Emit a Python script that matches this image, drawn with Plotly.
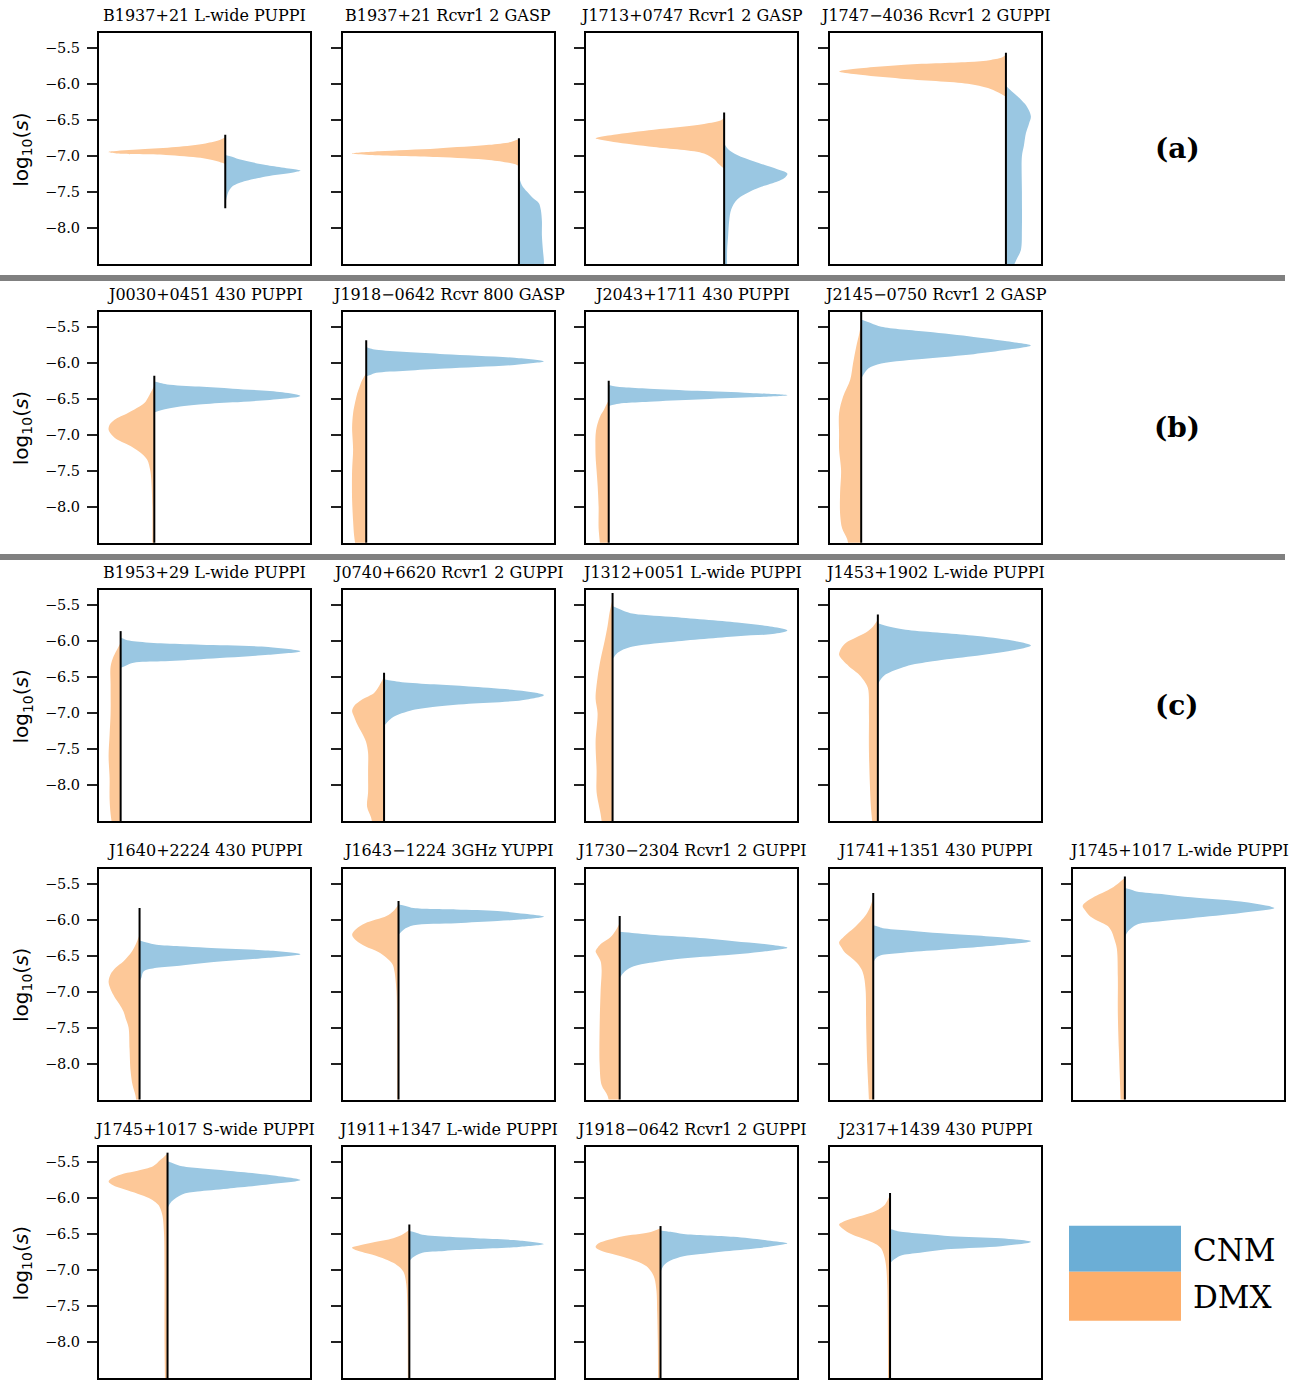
import plotly.graph_objects as go

W, H = 1301, 1380

# ---------------- data ----------------
TITLES = [
    "B1937+21 L-wide PUPPI", "B1937+21 Rcvr1 2 GASP", "J1713+0747 Rcvr1 2 GASP", "J1747\u22124036 Rcvr1 2 GUPPI",
    "J0030+0451 430 PUPPI", "J1918\u22120642 Rcvr 800 GASP", "J2043+1711 430 PUPPI", "J2145\u22120750 Rcvr1 2 GASP",
    "B1953+29 L-wide PUPPI", "J0740+6620 Rcvr1 2 GUPPI", "J1312+0051 L-wide PUPPI", "J1453+1902 L-wide PUPPI",
    "J1640+2224 430 PUPPI", "J1643\u22121224 3GHz YUPPI", "J1730\u22122304 Rcvr1 2 GUPPI", "J1741+1351 430 PUPPI",
    "J1745+1017 L-wide PUPPI",
    "J1745+1017 S-wide PUPPI", "J1911+1347 L-wide PUPPI", "J1918\u22120642 Rcvr1 2 GUPPI", "J2317+1439 430 PUPPI",
]
PANEL_ROW = [0, 0, 0, 0, 1, 1, 1, 1, 2, 2, 2, 2, 3, 3, 3, 3, 3, 4, 4, 4, 4]
PANEL_COL = [0, 1, 2, 3, 0, 1, 2, 3, 0, 1, 2, 3, 0, 1, 2, 3, 4, 0, 1, 2, 3]

# extent of the black median line (log10 s)
LINE_TOP = [-6.70, -6.75, -6.39, -5.56,
            -6.18, -5.685, -6.25, -5.28,
            -5.86, -6.44, -5.33, -5.63,
            -5.84, -5.74, -5.95, -5.63, -5.40,
            -5.37, -6.37, -6.39, -5.93]
LINE_BOTTOM = [-7.72, -8.6, -8.6, -8.6,
               -8.6, -8.6, -8.6, -8.6,
               -8.6, -8.6, -8.6, -8.6,
               -8.6, -8.6, -8.6, -8.6, -8.6,
               -8.6, -8.6, -8.6, -8.6]

# DMX (left half) density profiles: (log10 s, relative width)
DMX = [
    [(-6.73, 0), (-6.77, 5), (-6.82, 20), (-6.87, 50), (-6.90, 85), (-6.93, 115), (-6.94, 118), (-6.96, 110),
     (-6.98, 60), (-7.02, 25), (-7.06, 10), (-7.09, 3), (-7.11, 0)],
    [(-6.76, 0), (-6.80, 8), (-6.84, 30), (-6.89, 82), (-6.93, 140), (-6.96, 167), (-6.98, 150), (-7.01, 82),
     (-7.05, 30), (-7.09, 10), (-7.12, 2), (-7.14, 0)],
    [(-6.46, 0), (-6.50, 3), (-6.55, 20), (-6.63, 70), (-6.70, 110), (-6.75, 128), (-6.80, 110), (-6.87, 70),
     (-6.96, 20), (-7.05, 9), (-7.10, 6), (-7.17, 0)],
    [(-5.58, 0), (-5.62, 3), (-5.66, 15), (-5.69, 38), (-5.73, 105), (-5.79, 155), (-5.82, 167), (-5.86, 150),
     (-5.92, 105), (-5.99, 38), (-6.05, 18), (-6.11, 8), (-6.17, 0)],
    [(-6.32, 0), (-6.45, 5), (-6.56, 10), (-6.65, 20), (-6.70, 27), (-6.79, 40), (-6.86, 45), (-6.93, 46),
     (-7.00, 43), (-7.07, 37), (-7.13, 28), (-7.19, 20), (-7.27, 12), (-7.35, 7), (-7.50, 4), (-7.63, 3),
     (-8.00, 2), (-8.60, 2)],
    [(-6.15, 0), (-6.24, 4), (-6.35, 7), (-6.43, 9), (-6.55, 11), (-6.70, 13), (-6.90, 14), (-7.20, 13),
     (-7.50, 14), (-7.90, 14), (-8.20, 13), (-8.40, 12), (-8.60, 10)],
    [(-6.52, 0), (-6.60, 3), (-6.66, 5), (-6.73, 8), (-6.80, 10), (-6.90, 12), (-7.00, 13), (-7.30, 13),
     (-7.50, 12), (-7.70, 11), (-8.00, 10), (-8.30, 10), (-8.60, 8)],
    [(-5.45, 0), (-5.60, 2), (-5.78, 5), (-6.00, 8), (-6.24, 11), (-6.47, 18), (-6.70, 22), (-7.00, 22),
     (-7.20, 22), (-7.50, 20), (-7.80, 21), (-8.10, 21), (-8.30, 19), (-8.45, 14), (-8.60, 12)],
    [(-6.02, 0), (-6.10, 3), (-6.21, 7), (-6.35, 10), (-6.60, 10), (-7.00, 10), (-7.30, 11), (-7.60, 12),
     (-7.90, 11), (-8.20, 11), (-8.40, 10), (-8.60, 8)],
    [(-6.49, 0), (-6.60, 4), (-6.72, 10), (-6.81, 22), (-6.90, 30), (-6.97, 32), (-7.05, 30), (-7.15, 27),
     (-7.28, 22), (-7.40, 18), (-7.55, 16), (-7.80, 16), (-8.10, 16), (-8.30, 17), (-8.45, 13), (-8.60, 11)],
    [(-5.42, 0), (-5.60, 3), (-5.79, 5), (-6.00, 8), (-6.25, 12), (-6.50, 15), (-6.80, 17), (-7.00, 15),
     (-7.40, 17), (-7.80, 16), (-8.10, 16), (-8.40, 12), (-8.60, 10)],
    [(-5.70, 0), (-5.80, 5), (-5.88, 12), (-5.95, 22), (-6.02, 32), (-6.10, 37), (-6.19, 39), (-6.27, 35),
     (-6.35, 29), (-6.45, 20), (-6.53, 15), (-6.65, 10), (-7.00, 9), (-7.50, 9), (-8.00, 8), (-8.30, 7),
     (-8.60, 5)],
    [(-6.21, 0), (-6.35, 4), (-6.44, 7.5), (-6.58, 16), (-6.67, 24), (-6.76, 29), (-6.86, 31), (-6.93, 30),
     (-7.00, 28), (-7.10, 24), (-7.18, 20), (-7.28, 16), (-7.37, 14), (-7.50, 11), (-7.80, 10), (-8.10, 9),
     (-8.30, 7), (-8.45, 4), (-8.60, 3)],
    [(-5.79, 0), (-5.88, 5), (-5.95, 12), (-6.05, 33), (-6.13, 42), (-6.21, 46), (-6.29, 42), (-6.37, 33),
     (-6.45, 20), (-6.53, 12), (-6.62, 6), (-6.72, 4), (-7.00, 2), (-7.50, 1.5), (-8.60, 1.2)],
    [(-6.05, 0), (-6.15, 4), (-6.25, 9.5), (-6.33, 18), (-6.39, 22), (-6.44, 24), (-6.50, 22), (-6.58, 19),
     (-6.70, 18), (-7.00, 19), (-7.50, 20), (-8.00, 20), (-8.30, 18), (-8.45, 12), (-8.60, 10)],
    [(-5.70, 0), (-5.82, 3), (-5.93, 7), (-6.03, 13), (-6.12, 19.5), (-6.22, 28), (-6.32, 34), (-6.40, 31),
     (-6.46, 28), (-6.54, 21), (-6.62, 15), (-6.71, 11), (-6.81, 9), (-7.00, 7.5), (-7.50, 7), (-8.00, 6),
     (-8.30, 5), (-8.60, 4)],
    [(-5.42, 0), (-5.49, 6), (-5.56, 13), (-5.62, 21), (-5.68, 30), (-5.75, 38), (-5.81, 42), (-5.88, 39),
     (-5.96, 34), (-6.03, 25), (-6.09, 17), (-6.17, 13), (-6.25, 11), (-6.40, 8), (-6.80, 7), (-7.30, 7),
     (-7.80, 6), (-8.20, 5), (-8.60, 4)],
    [(-5.38, 0), (-5.47, 7), (-5.56, 14.5), (-5.62, 30), (-5.66, 43.5), (-5.72, 55), (-5.77, 59), (-5.82, 55),
     (-5.88, 43.5), (-5.94, 30), (-6.00, 18.7), (-6.06, 12), (-6.12, 8), (-6.25, 5), (-6.50, 3.5), (-7.00, 3),
     (-8.00, 3), (-8.60, 2.5)],
    [(-6.44, 0), (-6.50, 6), (-6.56, 16), (-6.62, 36.5), (-6.66, 50), (-6.69, 57), (-6.73, 52), (-6.79, 36.5),
     (-6.85, 24), (-6.90, 16), (-6.97, 9), (-7.04, 5.4), (-7.20, 3), (-7.50, 2), (-8.60, 1.5)],
    [(-6.42, 0), (-6.48, 12), (-6.53, 37.6), (-6.58, 52), (-6.63, 62), (-6.68, 65), (-6.73, 60), (-6.78, 48),
     (-6.82, 37), (-6.88, 24), (-6.95, 14), (-7.03, 9), (-7.12, 6), (-7.30, 4), (-7.60, 3.3), (-8.00, 2.7),
     (-8.60, 2.5)],
    [(-5.96, 0), (-6.03, 2.5), (-6.10, 5.7), (-6.17, 13), (-6.22, 22), (-6.29, 39), (-6.33, 47), (-6.37, 51),
     (-6.43, 47), (-6.50, 39), (-6.55, 30), (-6.59, 22), (-6.65, 13), (-6.70, 9), (-6.80, 6), (-6.94, 4),
     (-7.20, 2.8), (-7.60, 2.3), (-8.60, 2)],
]

# CNM (right half) density profiles: (log10 s, relative width)
CNM = [
    [(-6.98, 0), (-7.00, 5), (-7.04, 14), (-7.12, 41), (-7.19, 74), (-7.20, 76), (-7.22, 70), (-7.28, 41),
     (-7.37, 14), (-7.42, 7), (-7.50, 3), (-7.60, 1), (-7.65, 0)],
    [(-7.28, 0), (-7.40, 3), (-7.49, 8), (-7.58, 14), (-7.65, 20), (-7.75, 22), (-7.90, 23), (-8.10, 23),
     (-8.30, 24), (-8.45, 25), (-8.60, 25)],
    [(-6.82, 0), (-6.90, 4), (-6.98, 13), (-7.07, 30), (-7.18, 53), (-7.24, 63), (-7.30, 60), (-7.35, 53),
     (-7.46, 30), (-7.60, 13), (-7.74, 7), (-7.90, 5), (-8.10, 4), (-8.30, 3), (-8.60, 3)],
    [(-6.02, 0), (-6.10, 6), (-6.17, 12), (-6.27, 19), (-6.36, 23), (-6.45, 25), (-6.55, 23), (-6.68, 20),
     (-6.85, 18), (-7.00, 16), (-7.50, 16), (-8.00, 16), (-8.30, 15), (-8.45, 10), (-8.60, 5)],
    [(-6.26, 0), (-6.28, 6), (-6.30, 13), (-6.33, 45), (-6.36, 79), (-6.41, 129), (-6.46, 147), (-6.50, 129),
     (-6.55, 79), (-6.58, 45), (-6.60, 30), (-6.64, 13), (-6.69, 0)],
    [(-5.78, 0), (-5.80, 4), (-5.82, 10), (-5.85, 40), (-5.88, 78), (-5.93, 147), (-5.98, 176), (-6.03, 147),
     (-6.08, 78), (-6.11, 40), (-6.14, 10), (-6.17, 4), (-6.19, 0)],
    [(-6.31, 0), (-6.33, 7), (-6.34, 15), (-6.36, 40), (-6.39, 88), (-6.42, 140), (-6.45, 177), (-6.48, 140),
     (-6.51, 88), (-6.54, 40), (-6.56, 15), (-6.58, 6), (-6.60, 0)],
    [(-5.40, 0), (-5.45, 10), (-5.50, 20), (-5.57, 66), (-5.64, 112), (-5.70, 145), (-5.76, 169), (-5.82, 145),
     (-5.88, 112), (-5.94, 66), (-6.01, 20), (-6.08, 7), (-6.15, 3), (-6.22, 0)],
    [(-5.95, 0), (-5.98, 5), (-6.00, 13), (-6.03, 40), (-6.05, 80), (-6.08, 147), (-6.14, 179), (-6.19, 147),
     (-6.25, 80), (-6.28, 40), (-6.30, 13), (-6.34, 5), (-6.37, 0)],
    [(-6.53, 0), (-6.55, 8), (-6.57, 18), (-6.60, 50), (-6.63, 85), (-6.69, 138), (-6.75, 160), (-6.82, 138),
     (-6.87, 85), (-6.92, 45), (-6.95, 31), (-7.04, 11), (-7.10, 5), (-7.18, 0)],
    [(-5.51, 0), (-5.56, 8), (-5.61, 18), (-5.66, 58), (-5.74, 125), (-5.80, 160), (-5.85, 175), (-5.90, 160),
     (-5.93, 125), (-6.01, 58), (-6.08, 18), (-6.16, 5), (-6.25, 0)],
    [(-5.75, 0), (-5.80, 12), (-5.84, 28), (-5.92, 95), (-5.99, 135), (-6.06, 154), (-6.13, 135), (-6.21, 95),
     (-6.28, 55), (-6.35, 28), (-6.46, 8), (-6.53, 3), (-6.60, 0)],
    [(-6.29, 0), (-6.32, 7), (-6.35, 17), (-6.37, 40), (-6.39, 67), (-6.43, 129), (-6.48, 161), (-6.53, 129),
     (-6.60, 67), (-6.64, 40), (-6.67, 17), (-6.72, 4), (-6.80, 2), (-6.86, 0)],
    [(-5.79, 0), (-5.81, 7), (-5.84, 15), (-5.86, 57), (-5.88, 98), (-5.92, 125), (-5.96, 144), (-6.00, 120),
     (-6.02, 98), (-6.05, 57), (-6.08, 15), (-6.14, 5), (-6.21, 0)],
    [(-6.17, 0), (-6.19, 15), (-6.21, 31), (-6.25, 75), (-6.30, 114), (-6.35, 150), (-6.39, 167), (-6.44, 145),
     (-6.50, 100), (-6.55, 55), (-6.60, 30), (-6.65, 14), (-6.72, 5), (-6.81, 0)],
    [(-6.08, 0), (-6.10, 5), (-6.12, 9.5), (-6.15, 35), (-6.19, 68), (-6.25, 130), (-6.30, 157), (-6.35, 130),
     (-6.42, 68), (-6.46, 30), (-6.49, 9.5), (-6.53, 3), (-6.60, 0)],
    [(-5.56, 0), (-5.58, 5), (-5.61, 11.6), (-5.65, 40), (-5.69, 66), (-5.75, 115), (-5.84, 148.5), (-5.91, 115),
     (-5.98, 66), (-6.03, 30), (-6.07, 11.6), (-6.16, 3.3), (-6.25, 0)],
    [(-5.49, 0), (-5.52, 6), (-5.56, 14.5), (-5.59, 35), (-5.62, 60), (-5.68, 102), (-5.75, 133), (-5.81, 102),
     (-5.87, 60), (-5.91, 30), (-5.95, 14.5), (-6.05, 4), (-6.14, 0)],
    [(-6.46, 0), (-6.48, 6), (-6.51, 13), (-6.54, 40), (-6.56, 67), (-6.59, 109), (-6.64, 134), (-6.68, 109),
     (-6.71, 67), (-6.735, 35), (-6.76, 13), (-6.83, 3), (-6.88, 0)],
    [(-6.45, 0), (-6.47, 10), (-6.50, 23), (-6.54, 73), (-6.59, 107), (-6.63, 127), (-6.68, 107), (-6.73, 73),
     (-6.78, 40), (-6.81, 23), (-6.87, 10), (-6.94, 3), (-7.03, 0)],
    [(-6.43, 0), (-6.45, 5), (-6.47, 11), (-6.50, 35), (-6.53, 61), (-6.56, 111), (-6.61, 141), (-6.67, 111),
     (-6.71, 61), (-6.76, 30), (-6.80, 11), (-6.87, 2.7), (-6.91, 0)],
]

ROW_LABELS = ["(a)", "(b)", "(c)"]
TICK_VALS = [-5.5, -6.0, -6.5, -7.0, -7.5, -8.0]
TICK_TEXT = ["\u22125.5", "\u22126.0", "\u22126.5", "\u22127.0", "\u22127.5", "\u22128.0"]
LEGEND_NAMES = ["CNM", "DMX"]

# ---------------- styling ----------------
CNM_FILL = "#9ac7e2"
DMX_FILL = "#fdc898"
CNM_LEG = "#6baed6"
DMX_LEG = "#fdae6b"
SERIF = "DejaVu Serif"
SANS = "DejaVu Sans"
Y_RANGE = [-8.5, -5.29]

PANEL_W, PANEL_H = 211, 231
COL_X0, COL_STEP = 99, 243.5
ROW_Y0, ROW_STEP = 33.3, 278.4


def px_x(v):
    return v / W


def px_y(v):
    return 1 - v / H


fig = go.Figure()
layout = dict(
    width=W, height=H, margin=dict(l=0, r=0, t=0, b=0),
    paper_bgcolor="white", plot_bgcolor="white", showlegend=False,
)
annotations = []
shapes = []

for i, title in enumerate(TITLES):
    r, c = PANEL_ROW[i], PANEL_COL[i]
    left = COL_X0 + COL_STEP * c
    top = ROW_Y0 + ROW_STEP * r
    xa = "x" if i == 0 else f"x{i+1}"
    ya = "y" if i == 0 else f"y{i+1}"
    xkey = "xaxis" if i == 0 else f"xaxis{i+1}"
    ykey = "yaxis" if i == 0 else f"yaxis{i+1}"

    dy = [p[0] for p in DMX[i]]
    dw = [p[1] for p in DMX[i]]
    cy = [p[0] for p in CNM[i]]
    cw = [p[1] for p in CNM[i]]
    L, R = max(dw), max(cw)
    pad = 0.05 * (L + R)

    fig.add_trace(go.Scatter(x=[-w for w in dw], y=dy, mode="lines", fill="tozerox",
                             fillcolor=DMX_FILL, line=dict(width=0, color=DMX_FILL, shape="spline", smoothing=0.9),
                             xaxis=xa, yaxis=ya, hoverinfo="skip"))
    fig.add_trace(go.Scatter(x=cw, y=cy, mode="lines", fill="tozerox",
                             fillcolor=CNM_FILL, line=dict(width=0, color=CNM_FILL, shape="spline", smoothing=0.9),
                             xaxis=xa, yaxis=ya, hoverinfo="skip"))
    fig.add_trace(go.Scatter(x=[0, 0], y=[LINE_TOP[i], LINE_BOTTOM[i]], mode="lines",
                             line=dict(color="black", width=2), xaxis=xa, yaxis=ya, hoverinfo="skip"))

    layout[xkey] = dict(domain=[px_x(left), px_x(left + PANEL_W)], range=[-L - pad, R + pad],
                        anchor=ya, showticklabels=False, ticks="", showgrid=False, zeroline=False,
                        showline=True, mirror=True, linecolor="black", linewidth=2)
    layout[ykey] = dict(domain=[px_y(top + PANEL_H), px_y(top)], range=Y_RANGE, anchor=xa,
                        tickvals=TICK_VALS, ticktext=TICK_TEXT, showticklabels=(c == 0),
                        ticks="outside", ticklen=10, tickwidth=1.5, tickcolor="#222",
                        ticklabelstandoff=4,
                        tickfont=dict(family=SERIF, size=14.5, color="black"),
                        showgrid=False, zeroline=False,
                        showline=True, mirror=True, linecolor="black", linewidth=2)

    annotations.append(dict(text=title, x=px_x(left + PANEL_W / 2), y=px_y(top - 17.5), xref="paper", yref="paper",
                            showarrow=False, xanchor="center", yanchor="middle",
                            font=dict(family=SERIF, size=16, color="black")))

# y-axis titles, one per row
for r in range(5):
    top = ROW_Y0 + ROW_STEP * r
    annotations.append(dict(text="log<sub>10</sub>(<i>s</i>)", x=px_x(22), y=px_y(top + PANEL_H / 2 + 1),
                            xref="paper", yref="paper", showarrow=False, textangle=-90,
                            xanchor="center", yanchor="middle",
                            font=dict(family=SANS, size=20, color="black")))

# row group labels
for r, lab in enumerate(ROW_LABELS):
    top = ROW_Y0 + ROW_STEP * r
    annotations.append(dict(text=f"<b>{lab}</b>", x=px_x(1177), y=px_y(top + PANEL_H / 2), xref="paper",
                            yref="paper", showarrow=False, xanchor="center", yanchor="middle",
                            font=dict(family=SERIF, size=28, color="black")))

# group separators
for yy in (278, 557):
    shapes.append(dict(type="line", xref="paper", yref="paper", x0=0, x1=px_x(1285), y0=px_y(yy), y1=px_y(yy),
                       line=dict(color="#808080", width=6)))

# legend
leg_boxes = [(1225.7, 1271.7, CNM_LEG), (1271.7, 1320.7, DMX_LEG)]
for (y0, y1, col), name in zip(leg_boxes, LEGEND_NAMES):
    shapes.append(dict(type="rect", xref="paper", yref="paper", x0=px_x(1069), x1=px_x(1181),
                       y0=px_y(y1), y1=px_y(y0), fillcolor=col, line=dict(width=0)))
    annotations.append(dict(text=name, x=px_x(1191), y=px_y((y0 + y1) / 2 + 1), xref="paper", yref="paper",
                            showarrow=False, xanchor="left", yanchor="middle",
                            font=dict(family=SERIF, size=31, color="black")))

layout["annotations"] = annotations
layout["shapes"] = shapes
fig.update_layout(**layout)
fig.write_html("out.html")
